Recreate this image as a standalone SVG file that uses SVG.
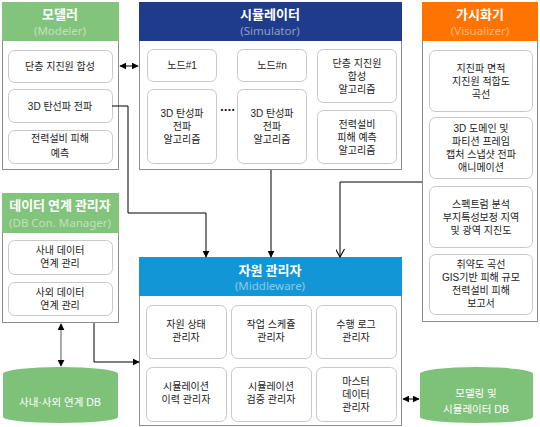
<svg xmlns="http://www.w3.org/2000/svg" width="540" height="427" viewBox="0 0 540 427">
<defs>
<marker id="ah" viewBox="0 0 10 10" refX="9" refY="5" markerWidth="7" markerHeight="7" orient="auto-start-reverse" markerUnits="userSpaceOnUse"><path d="M0,0 L10,5 L0,10 z" fill="#000"/></marker>
<marker id="av" viewBox="0 0 10 10" refX="9" refY="5" markerWidth="9" markerHeight="9" orient="auto" markerUnits="userSpaceOnUse"><path d="M0,0 L9,5 L0,10" fill="none" stroke="#000" stroke-width="1.2"/></marker>
</defs>
<style>
.panel{fill:#fff;stroke:#8c8c8c;stroke-width:1}
.box{fill:#fff;stroke:#c8c8c8;stroke-width:1}
.t{font-family:"Liberation Sans","Noto Sans CJK KR",sans-serif;font-size:10px;fill:#222;text-anchor:middle}
.h{font-family:"Noto Sans CJK KR","Noto Sans",sans-serif;font-size:13px;font-weight:bold;fill:#fff;text-anchor:middle}
.s{font-family:"Noto Sans","Noto Sans CJK KR",sans-serif;font-size:11.5px;fill:#fff;fill-opacity:0.5;text-anchor:middle}
.db{fill:#7EC27A}
.dbt{font-family:"Liberation Sans","Noto Sans CJK KR",sans-serif;font-size:10.5px;fill:#fff;text-anchor:middle}
.c{fill:none;stroke:#000;stroke-width:1}
</style>

<g id="modeler">
<rect class="panel" x="2.5" y="2.5" width="116" height="167"/>
<rect x="2" y="2" width="117" height="39" fill="#83C47C"/>
<text class="h" x="60" y="19">모델러</text>
<text class="s" x="60" y="35">(Modeler)</text>
<rect class="box" x="8.5" y="50.5" width="104" height="32" rx="6"/>
<text class="t" x="60" y="70">단층 지진원 합성</text>
<rect class="box" x="8.5" y="89.5" width="104" height="33" rx="6"/>
<text class="t" x="60" y="110">3D 탄선파 전파</text>
<rect class="box" x="8.5" y="130.5" width="104" height="33" rx="6"/>
<text class="t" x="60" y="142">전력설비 피해<tspan x="60" dy="15">예측</tspan></text>
</g>

<g id="simulator">
<rect class="panel" x="139.5" y="2.5" width="262" height="167"/>
<rect x="139" y="2" width="263" height="39" fill="#1F3B8B"/>
<text class="h" x="270" y="19">시뮬레이터</text>
<text class="s" x="270" y="35">(Simulator)</text>
<rect class="box" x="147.5" y="49.5" width="69" height="32" rx="6"/>
<text class="t" x="182" y="69">노드#1</text>
<rect class="box" x="147.5" y="89.5" width="69" height="74" rx="6"/>
<text class="t" x="182" y="117">3D 탄성파<tspan x="182" dy="13">전파</tspan><tspan x="182" dy="13">알고리즘</tspan></text>
<text x="227.5" y="114" style="font-family:'DejaVu Sans',sans-serif;font-size:10px;font-weight:bold;fill:#111;text-anchor:middle">····</text>
<rect class="box" x="237.5" y="49.5" width="69" height="32" rx="6"/>
<text class="t" x="272" y="69">노드#n</text>
<rect class="box" x="237.5" y="89.5" width="69" height="74" rx="6"/>
<text class="t" x="272" y="117">3D 탄성파<tspan x="272" dy="13">전파</tspan><tspan x="272" dy="13">알고리즘</tspan></text>
<rect class="box" x="317.5" y="49.5" width="79" height="53" rx="6"/>
<text class="t" x="357" y="67">단층 지진원<tspan x="357" dy="13">합성</tspan><tspan x="357" dy="13">알고리즘</tspan></text>
<rect class="box" x="317.5" y="110.5" width="79" height="53" rx="6"/>
<text class="t" x="357" y="128">전력설비<tspan x="357" dy="13">피해 예측</tspan><tspan x="357" dy="13">알고리즘</tspan></text>
</g>

<g id="visualizer">
<rect class="panel" x="422.5" y="2.5" width="115" height="319"/>
<rect x="422" y="2" width="116" height="39" fill="#FF7300"/>
<text class="h" x="480" y="19">가시화기</text>
<text class="s" x="480" y="35">(Visualizer)</text>
<rect class="box" x="429.5" y="50.5" width="103" height="61" rx="6"/>
<text class="t" x="481" y="72">지진파 면적<tspan x="481" dy="13">지진원 적합도</tspan><tspan x="481" dy="13">곡선</tspan></text>
<rect class="box" x="429.5" y="117.5" width="103" height="61" rx="6"/>
<text class="t" x="481" y="132">3D 도메인 및<tspan x="481" dy="13">파티션 프레임</tspan><tspan x="481" dy="13">캡처 스냅샷 전파</tspan><tspan x="481" dy="13">애니메이션</tspan></text>
<rect class="box" x="429.5" y="186.5" width="103" height="61" rx="6"/>
<text class="t" x="481" y="208">스펙트럼 분석<tspan x="481" dy="13">부지특성보정 지역</tspan><tspan x="481" dy="13">및 광역 지진도</tspan></text>
<rect class="box" x="429.5" y="254.5" width="103" height="60" rx="6"/>
<text class="t" x="481" y="268">취약도 곡선<tspan x="481" dy="13">GIS기반 피해 규모</tspan><tspan x="481" dy="13">전력설비 피해</tspan><tspan x="481" dy="13">보고서</tspan></text>
</g>

<g id="dbcon">
<rect class="panel" x="2.5" y="193.5" width="116" height="129"/>
<rect x="2" y="193" width="117" height="40" fill="#83C47C"/>
<text class="h" x="60" y="210">데이터 연계 관리자</text>
<text class="s" x="60" y="227">(DB Con. Manager)</text>
<rect class="box" x="8.5" y="240.5" width="104" height="34" rx="6"/>
<text class="t" x="60" y="254">사내 데이터<tspan x="60" dy="13">연계 관리</tspan></text>
<rect class="box" x="8.5" y="282.5" width="104" height="33" rx="6"/>
<text class="t" x="60" y="296">사외 데이터<tspan x="60" dy="13">연계 관리</tspan></text>
</g>

<g id="middleware">
<rect class="panel" x="139.5" y="257.5" width="262" height="168"/>
<rect x="139" y="257" width="263" height="39" fill="#1396D5"/>
<text class="h" x="270" y="275">자원 관리자</text>
<text class="s" x="270" y="290">(Middleware)</text>
<rect class="box" x="146.5" y="305.5" width="80" height="53" rx="6"/>
<text class="t" x="186" y="328">자원 상태<tspan x="186" dy="13">관리자</tspan></text>
<rect class="box" x="231.5" y="305.5" width="80" height="53" rx="6"/>
<text class="t" x="271" y="328">작업 스케쥴<tspan x="271" dy="13">관리자</tspan></text>
<rect class="box" x="316.5" y="305.5" width="80" height="53" rx="6"/>
<text class="t" x="356" y="328">수행 로그<tspan x="356" dy="13">관리자</tspan></text>
<rect class="box" x="146.5" y="367.5" width="80" height="54" rx="6"/>
<text class="t" x="186" y="390">시뮬레이션<tspan x="186" dy="13">이력 관리자</tspan></text>
<rect class="box" x="231.5" y="367.5" width="80" height="54" rx="6"/>
<text class="t" x="271" y="390">시뮬레이션<tspan x="271" dy="13">검증 관리자</tspan></text>
<rect class="box" x="316.5" y="367.5" width="80" height="54" rx="6"/>
<text class="t" x="356" y="385">마스터<tspan x="356" dy="13">데이터</tspan><tspan x="356" dy="13">관리자</tspan></text>
</g>

<g id="db-left">
<path class="db" d="M3,374 A57.5,7 0 0 1 118,374 V417 A57.5,6 0 0 1 3,417 Z"/>
<text class="dbt" x="60" y="406">사내·사외 연계 DB</text>
</g>

<g id="db-right">
<path class="db" d="M420,374 A56.5,7 0 0 1 533,374 V417 A56.5,6 0 0 1 420,417 Z"/>
<text class="dbt" x="476" y="397">모델링 및<tspan x="476" dy="16">시뮬레이터 DB</tspan></text>
</g>

<g id="connectors">
<line class="c" x1="120" y1="66" x2="138" y2="66" marker-start="url(#ah)" marker-end="url(#ah)"/>
<polyline class="c" points="112,106 128,106 128,213 206,213 206,257" marker-end="url(#ah)"/>
<line class="c" x1="271" y1="170" x2="271" y2="257" marker-end="url(#ah)"/>
<polyline class="c" points="422,182 340,182 340,257" marker-end="url(#av)"/>
<line x1="61" y1="324" x2="61" y2="366" stroke="#555" stroke-width="1" marker-start="url(#ah)" marker-end="url(#ah)"/>
<polyline class="c" points="94,323 94,362 139,362" marker-end="url(#ah)"/>
<line class="c" x1="403" y1="399" x2="419" y2="399" marker-start="url(#ah)" marker-end="url(#ah)"/>
</g>
</svg>
